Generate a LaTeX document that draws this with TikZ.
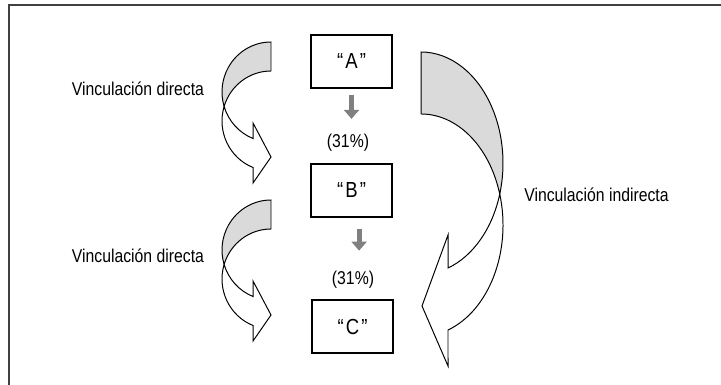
\documentclass[tikz,border=0pt]{standalone}
\usepackage{fontspec}
\setmainfont{Liberation Sans}[FakeStretch=0.85]
\usetikzlibrary{arrows.meta}
\definecolor{Shade}{HTML}{DADADA}
\definecolor{Drop}{HTML}{808080}
\definecolor{Edge}{HTML}{404040}
\newcommand{\quoted}[1]{“\kern1.5pt#1\kern1.5pt”}

\begin{document}
\begin{tikzpicture}[
  font=\fontsize{13.2}{16}\selectfont,
  entity/.style={draw,line width=0.9pt,minimum width=2.025cm,minimum height=1.325cm,inner sep=0pt,font=\fontsize{15.5}{18}\selectfont},
  share/.style={inner sep=0pt},
  tag/.style={anchor=base west,inner sep=0pt},
  drop/.style={-{Triangle[length=2.25mm,width=3.75mm]},line width=3.5pt,draw=Drop},
  back/.style={draw,line width=0.7pt,fill=Shade},
  band/.style={draw,line width=0.7pt,fill=white}
]
\useasboundingbox (0,0) rectangle (18.025,-9.625);
\draw[Edge,line width=1pt] (18.025,-0.125) -- (0.225,-0.125) -- (0.225,-9.625);

\node[entity] (a) at (8.7875,-1.5375) {\quoted{A}};
\node[entity] (b) at (8.7875,-4.7625) {\quoted{B}};
\node[entity] (c) at (8.8125,-8.1625) {\quoted{C}};
\node[share] (s1) at (8.7,-3.575) {(31\%)};
\node[share] (s2) at (8.825,-7.0) {(31\%)};
\draw[drop,shorten <=1.5mm,shorten >=3.8mm] (a.south) -- (a.south |- s1.north);
\draw[drop,shorten <=2.75mm,shorten >=5.1mm] ([xshift=1.9mm]b.south) -- ([xshift=1.9mm]b.south |- s2.north);

\foreach \dy in {0,-3.95} {
  \begin{scope}[yshift=\dy cm]
    \draw[back] (6.775,-1.05) arc[start angle=90,end angle=196.86,x radius=1.225,y radius=1.25]
      arc[start angle=163.14,end angle=90,x radius=1.225,y radius=1.25] -- cycle;
    \draw[band] (5.6027,-2.6625) arc[start angle=163.14,end angle=248.47,x radius=1.225,y radius=1.25]
      -- (6.3256,-4.575) -- (6.775,-3.925) -- (6.3256,-3.075) -- (6.3256,-3.4628)
      arc[start angle=248.47,end angle=196.86,x radius=1.225,y radius=1.25] -- cycle;
  \end{scope}
}
\draw[back] (10.525,-1.3) arc[start angle=90,end angle=-16.2,x radius=2.05,y radius=2.7775]
  arc[start angle=16.2,end angle=90,x radius=2.05,y radius=2.7775] -- cycle;
\draw[band] (12.4935,-4.8525) arc[start angle=16.2,end angle=-70.78,x radius=2.05,y radius=2.7775]
  -- (11.2,-9.15) -- (10.55,-7.65) -- (11.2,-5.875) -- (11.2,-6.7002)
  arc[start angle=-70.78,end angle=-16.2,x radius=2.05,y radius=2.7775] -- cycle;

\node[tag] (d1) at (1.79,-2.4) {Vinculación directa};
\node[tag] (d2) at (1.79,-6.575) {Vinculación directa};
\node[tag] (ind) at (13.1,-5.05) {Vinculación indirecta};
\end{tikzpicture}
\end{document}
